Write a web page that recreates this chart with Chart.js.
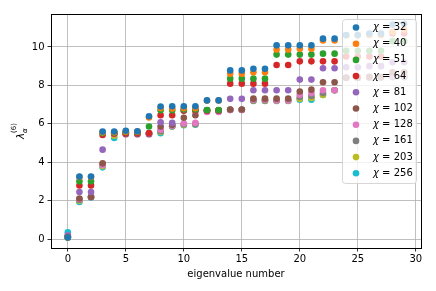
<!DOCTYPE html>
<html>
<head>
<meta charset="utf-8">
<script src="https://cdn.jsdelivr.net/npm/chart.js@4/dist/chart.umd.min.js"></script>
<style>
    html, body { margin: 0; padding: 0; background: #fff; }
    canvas { display: block; }
</style>
</head>
<body>
<canvas id="spectrum" width="436" height="291"></canvas>
<script>
// eigenvalue index on the x axis
const eigenIndex = [0, 1, 2, 3, 4, 5, 6, 7, 8, 9, 10, 11, 12, 13, 14, 15, 16, 17, 18, 19, 20, 21, 22, 23, 24, 25, 26, 27, 28, 29];

// bond dimensions (one series each)
const chiValues = [32, 40, 51, 64, 81, 102, 128, 161, 203, 256];

// entanglement spectrum values
const lambda32  = [0.10, 3.26, 3.26, 5.60, 5.60, 5.64, 5.62, 6.40, 6.90, 6.92, 6.92, 6.92, 7.22, 7.22, 8.78, 8.78, 8.86, 8.86, 10.08, 10.08, 10.08, 10.08, 10.43, 10.43, 10.62, 10.62, 10.70, 10.70, 11.16, 11.20];
const lambda40  = [0.10, 3.24, 3.24, 5.56, 5.56, 5.60, 5.60, 6.33, 6.82, 6.80, 6.82, 6.82, 7.21, 7.21, 8.61, 8.61, 8.68, 8.68, 9.86, 9.86, 9.91, 9.91, 10.33, 10.33, 10.60, 10.60, 10.62, 10.62, 10.78, 10.90];
const lambda51  = [0.10, 3.02, 3.02, 5.52, 5.54, 5.58, 5.58, 5.86, 6.71, 6.71, 6.75, 6.75, 6.72, 6.72, 8.35, 8.35, 8.35, 8.35, 9.60, 9.60, 9.60, 9.60, 9.65, 9.65, 9.80, 9.80, 9.80, 9.80, 10.30, 10.30];
const lambda64  = [0.12, 2.80, 2.80, 5.42, 5.50, 5.52, 5.52, 5.52, 6.45, 6.45, 6.70, 6.70, 6.70, 6.70, 8.09, 8.09, 8.09, 8.09, 9.06, 9.06, 9.25, 9.25, 9.25, 9.25, 9.50, 9.50, 9.50, 9.50, 10.70, 10.70];
const lambda81  = [0.20, 2.46, 2.46, 4.66, 5.55, 5.52, 5.52, 5.50, 6.08, 6.05, 6.68, 6.68, 6.70, 6.70, 7.30, 7.30, 7.75, 7.75, 7.75, 7.75, 8.30, 8.30, 8.89, 8.89, 8.94, 8.94, 9.00, 9.00, 9.20, 9.20];
const lambda102 = [0.12, 2.12, 2.20, 3.95, 5.50, 5.48, 5.48, 5.48, 5.86, 5.95, 6.32, 6.45, 6.68, 6.68, 6.75, 6.75, 7.31, 7.31, 7.31, 7.31, 7.68, 7.78, 8.16, 8.16, 8.40, 8.40, 8.45, 8.45, 8.68, 8.68];
const lambda128 = [0.20, 2.08, 2.20, 3.85, 5.48, 5.45, 5.45, 5.45, 5.69, 5.90, 6.02, 6.05, 6.62, 6.62, 6.72, 6.72, 7.25, 7.25, 7.22, 7.22, 7.52, 7.60, 7.75, 7.75, 8.40, 8.40, 8.42, 8.42, 8.50, 8.50];
const lambda161 = [0.15, 2.05, 2.20, 3.90, 5.52, 5.50, 5.50, 5.50, 5.62, 5.88, 5.98, 6.00, 6.68, 6.68, 6.73, 6.73, 7.22, 7.22, 7.22, 7.22, 7.40, 7.45, 7.60, 7.75, 8.40, 8.40, 8.42, 8.42, 8.45, 8.45];
const lambda203 = [0.10, 2.00, 2.20, 3.80, 5.38, 5.52, 5.52, 5.50, 5.58, 5.88, 5.95, 5.98, 6.70, 6.70, 6.73, 6.73, 7.20, 7.20, 7.20, 7.20, 7.30, 7.35, 7.50, 7.75, 8.40, 8.40, 8.42, 8.42, 8.45, 8.45];
const lambda256 = [0.37, 1.94, 2.18, 3.74, 5.27, 5.55, 5.55, 5.50, 5.51, 5.86, 5.93, 5.96, 6.71, 6.71, 6.73, 6.73, 7.19, 7.19, 7.19, 7.19, 7.26, 7.26, 7.50, 7.75, 8.40, 8.40, 8.40, 8.40, 8.42, 8.42];

const seriesValues = [lambda32, lambda40, lambda51, lambda64, lambda81, lambda102, lambda128, lambda161, lambda203, lambda256];

// tick labels
const xTicks = [0, 5, 10, 15, 20, 25, 30];
const yTicks = [0, 2, 4, 6, 8, 10];

const palette = ['#1f77b4', '#ff7f0e', '#2ca02c', '#d62728', '#9467bd',
                 '#8c564b', '#e377c2', '#7f7f7f', '#bcbd22', '#17becf'];

const FONT = '"DejaVu Sans", sans-serif';

const datasets = chiValues.map((chi, i) => ({
    label: 'χ = ' + chi,
    data: eigenIndex.map((x, j) => ({ x: x, y: seriesValues[i][j] })),
    backgroundColor: palette[i],
    borderWidth: 0,
    pointRadius: 3.3,
    pointHoverRadius: 3.3
}));

// frame, axis titles and the in-plot legend (matplotlib style)
const decorations = {
    id: 'decorations',
    afterDraw(chart) {
        const ctx = chart.ctx;
        const a = chart.chartArea;

        // spines
        ctx.save();
        ctx.strokeStyle = '#000';
        ctx.lineWidth = 1;
        ctx.strokeRect(Math.round(a.left) + 0.5, Math.round(a.top) + 0.5,
                       Math.round(a.right - a.left), Math.round(a.bottom - a.top));
        ctx.restore();

        // x title
        ctx.save();
        ctx.fillStyle = '#000';
        ctx.font = '10px ' + FONT;
        ctx.textAlign = 'center';
        ctx.textBaseline = 'alphabetic';
        ctx.fillText('eigenvalue number', (a.left + a.right) / 2, 277);
        ctx.restore();

        // y title: lambda with subscript alpha and superscript (6)
        ctx.save();
        ctx.translate(24, (a.top + a.bottom) / 2);
        ctx.rotate(-Math.PI / 2);
        ctx.fillStyle = '#000';
        ctx.textBaseline = 'alphabetic';
        ctx.font = 'italic 10px ' + FONT;
        const wl = ctx.measureText('λ').width;
        ctx.font = 'italic 7px ' + FONT;
        const wa = ctx.measureText('α').width;
        ctx.font = '7px ' + FONT;
        const ws = ctx.measureText('(6)').width;
        const total = wl + Math.max(wa, ws);
        let x0 = -total / 2;
        ctx.font = 'italic 10px ' + FONT;
        ctx.textAlign = 'left';
        ctx.fillText('λ', x0, 0);
        ctx.font = 'italic 7px ' + FONT;
        ctx.fillText('α', x0 + wl, 2.5);
        ctx.font = '7px ' + FONT;
        ctx.fillText('(6)', x0 + wl, -8);
        ctx.restore();

        // legend box
        const bx = 342, by = 19.5, bw = 74, bh = 164;
        ctx.save();
        ctx.beginPath();
        ctx.roundRect(bx + 0.5, by, bw, bh, 3);
        ctx.fillStyle = 'rgba(255,255,255,0.8)';
        ctx.fill();
        ctx.strokeStyle = '#d6d6d6';
        ctx.lineWidth = 1;
        ctx.stroke();

        ctx.font = '10px ' + FONT;
        ctx.textBaseline = 'middle';
        ctx.textAlign = 'left';
        chiValues.forEach((chi, i) => {
            const cy = 27.5 + i * 16.2;
            ctx.beginPath();
            ctx.arc(356, cy, 3.3, 0, Math.PI * 2);
            ctx.fillStyle = palette[i];
            ctx.fill();
            ctx.fillStyle = '#000';
            ctx.font = 'italic 10px ' + FONT;
            ctx.fillText('χ', 373, cy);
            const wc = ctx.measureText('χ').width;
            ctx.font = '10px ' + FONT;
            ctx.fillText(' = ' + chi, 373 + wc, cy);
        });
        ctx.restore();
    }
};

new Chart(document.getElementById('spectrum'), {
    type: 'scatter',
    data: { datasets: datasets },
    options: {
        responsive: false,
        animation: false,
        events: [],
        layout: { padding: { left: 0, top: 14, right: 15, bottom: 0 } },
        plugins: {
            legend: { display: false },
            tooltip: { enabled: false }
        },
        scales: {
            x: {
                type: 'linear',
                min: -1.45,
                max: 30.45,
                afterFit: (scale) => { scale.height = 43; },
                afterBuildTicks: (scale) => { scale.ticks = xTicks.map(v => ({ value: v })); },
                border: { display: false },
                grid: { color: '#b0b0b0', lineWidth: 0.8, tickColor: '#000', tickLength: 3.5 },
                ticks: { color: '#000', font: { family: FONT, size: 10 }, padding: 2, maxRotation: 0 }
            },
            y: {
                type: 'linear',
                min: -0.45,
                max: 11.71,
                afterFit: (scale) => { scale.width = 51; },
                afterBuildTicks: (scale) => { scale.ticks = yTicks.map(v => ({ value: v })); },
                border: { display: false },
                grid: { color: '#b0b0b0', lineWidth: 0.8, tickColor: '#000', tickLength: 3.5 },
                ticks: { color: '#000', font: { family: FONT, size: 10 }, padding: 3 }
            }
        }
    },
    plugins: [decorations]
});
</script>
</body>
</html>
